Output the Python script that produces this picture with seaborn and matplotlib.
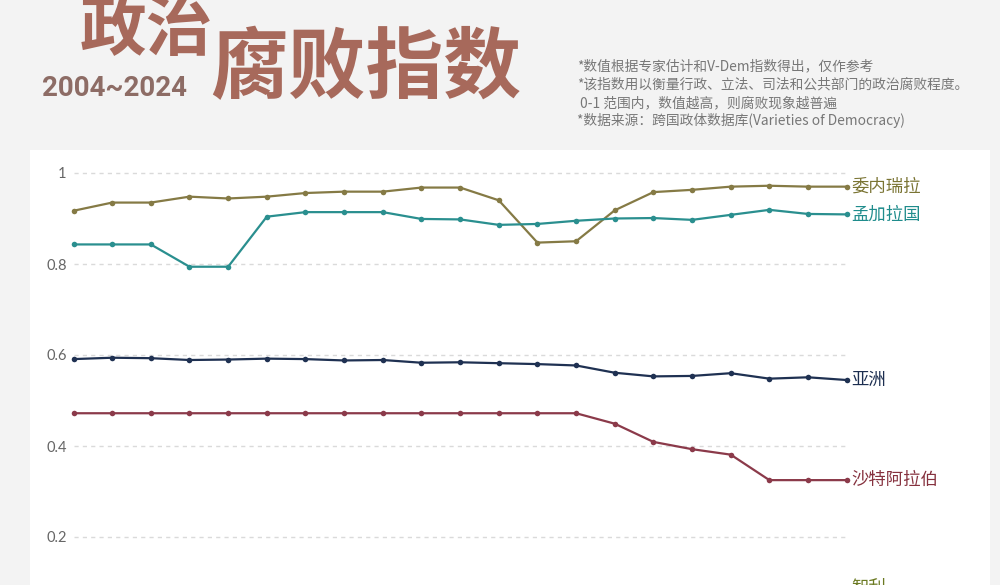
import matplotlib
matplotlib.use("Agg")
import matplotlib.pyplot as plt
import seaborn as sns
import pandas as pd
from matplotlib.patches import Rectangle

years = list(range(2004, 2025))
venezuela = [0.917, 0.935, 0.935, 0.948, 0.944, 0.948, 0.956, 0.959, 0.959, 0.968, 0.968,
             0.940, 0.847, 0.850, 0.918, 0.958, 0.963, 0.970, 0.972, 0.970, 0.970]
bangladesh = [0.843, 0.843, 0.843, 0.794, 0.794, 0.904, 0.914, 0.914, 0.914, 0.899, 0.898,
              0.886, 0.888, 0.895, 0.900, 0.901, 0.897, 0.908, 0.919, 0.910, 0.909]
asia = [0.591, 0.594, 0.593, 0.589, 0.590, 0.592, 0.591, 0.588, 0.589, 0.583, 0.584,
        0.582, 0.580, 0.577, 0.561, 0.553, 0.554, 0.560, 0.548, 0.551, 0.545]
saudi = [0.472, 0.472, 0.472, 0.472, 0.472, 0.472, 0.472, 0.472, 0.472, 0.472, 0.472,
         0.472, 0.472, 0.472, 0.449, 0.409, 0.393, 0.381, 0.325, 0.325, 0.325]
chile = [0.070, 0.070, 0.072, 0.072, 0.075, 0.075, 0.078, 0.078, 0.080, 0.080, 0.082,
         0.082, 0.085, 0.085, 0.086, 0.086, 0.087, 0.087, 0.088, 0.088, 0.088]

series_names = ["委内瑞拉", "孟加拉国", "亚洲", "沙特阿拉伯", "智利"]
series_values = [venezuela, bangladesh, asia, saudi, chile]
line_colors = ["#857a45", "#2a8f8f", "#1f3152", "#8b3a4a", "#6f7d2a"]
label_colors = ["#7a7433", "#1f8c8c", "#1c2e50", "#86323f", "#6b7a22"]
ytick_values = [0.2, 0.4, 0.6, 0.8, 1.0]
ytick_labels = ["0.2", "0.4", "0.6", "0.8", "1"]

title_a = "政治"
title_b = "腐败指数"
subtitle = "2004~2024"
notes = [
    "*数值根据专家估计和V-Dem指数得出，仅作参考",
    "*该指数用以衡量行政、立法、司法和公共部门的政治腐败程度。",
    " 0-1 范围内，数值越高，则腐败现象越普遍",
    "*数据来源：跨国政体数据库(Varieties of Democracy)",
]

rows = []
for name, vals in zip(series_names, series_values):
    for y, v in zip(years, vals):
        rows.append({"year": y, "value": v, "series": name})
df = pd.DataFrame(rows)

sns.set_theme(style="white")
plt.rcParams["font.family"] = ["Noto Sans CJK SC", "DejaVu Sans"]

W, H = 1000, 585
fig = plt.figure(figsize=(W / 100, H / 100), dpi=100)
fig.patch.set_facecolor("#f3f3f3")

# white card
fig.patches.append(Rectangle((30 / W, 0), (990 - 30) / W, (H - 150) / H,
                             transform=fig.transFigure, facecolor="#ffffff",
                             edgecolor="none", zorder=0))

ax = fig.add_axes([73.5 / W, 0, (846.7 - 73.5) / W, (H - 150) / H])
ax.set_facecolor("none")
ax.set_zorder(2)

sns.lineplot(data=df, x="year", y="value", hue="series", hue_order=series_names,
             palette=dict(zip(series_names, line_colors)), marker="o",
             markersize=4, markeredgewidth=0, linewidth=1.6, legend=False, ax=ax)
for ln in ax.lines:
    ln.set_clip_on(False)

ax.set_xlim(2004, 2024)
ax.set_ylim(1 - (585 - 173) / 455, 1 + (173 - 150) / 455)
ax.set_yticks(ytick_values)
ax.set_yticklabels(ytick_labels, family=["Lato", "DejaVu Sans"], fontsize=10.5, color="#666666")
ax.tick_params(axis="y", length=0, pad=5)
ax.set_xticks([])
ax.set_xlabel("")
ax.set_ylabel("")
for s in ax.spines.values():
    s.set_visible(False)
for yv in ytick_values:
    ax.axhline(yv, color="#dadada", linewidth=1.0, linestyle=(0, (3, 3)), zorder=0)

for name, vals, c in zip(series_names, series_values, label_colors):
    ax.annotate(name, xy=(years[-1], vals[-1]), xytext=(3, 0), textcoords="offset points",
                va="center", ha="left", fontsize=12.5, color=c, annotation_clip=False)

# titles
fig.text(80 / W, 1 - 50 / H, title_a, fontsize=48, fontweight="black",
         color="#a7695b", ha="left", va="baseline")
fig.text(210 / W, 1 - 92 / H, title_b, fontsize=56, fontweight="black",
         color="#a7695b", ha="left", va="baseline")
fig.text(42 / W, 1 - 96 / H, subtitle, fontsize=20, fontweight="bold",
         family=["Roboto", "DejaVu Sans"], color="#8d6c65", ha="left", va="baseline")

for i, t in enumerate(notes):
    fig.text(577 / W, 1 - (70 + i * 18.5) / H, t, fontsize=9.9, color="#777777",
             ha="left", va="baseline")

fig.savefig("out.png", dpi=100, facecolor=fig.get_facecolor())
